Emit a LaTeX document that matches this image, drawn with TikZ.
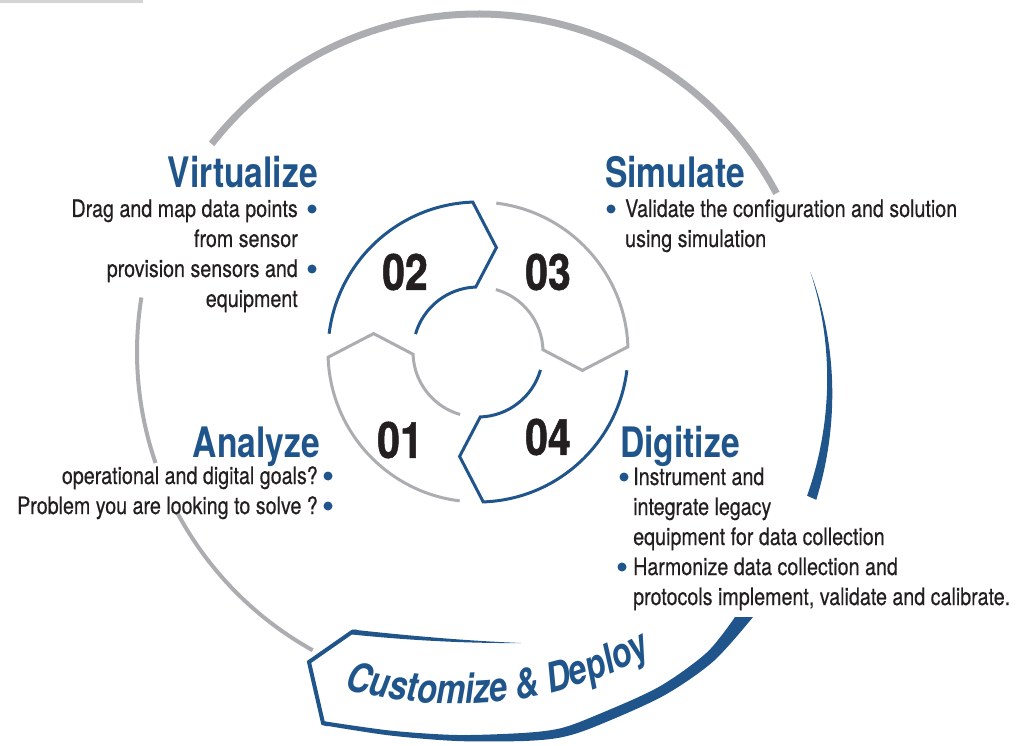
\documentclass[tikz,border=0pt]{standalone}
\usepackage{fontspec}
\setmainfont{TeX Gyre Heros}[FakeStretch=0.8]
\newfontfamily\bodyfont{TeX Gyre Heros}[FakeStretch=0.82, FakeBold=0.4]
\newfontfamily\numfont{TeX Gyre Heros}[FakeStretch=0.82, FakeBold=1]
\usetikzlibrary{calc,decorations.text}
\definecolor{cblue}{RGB}{31,85,139}
\definecolor{cgray}{RGB}{172,173,177}
\definecolor{ctext}{RGB}{35,31,32}
\tikzset{
  title/.style={font=\fontsize{42}{42}\selectfont\bfseries, text=cblue, inner sep=0pt},
  body/.style={font=\fontsize{24}{30}\bodyfont, text=ctext, inner sep=0pt},
  num/.style={font=\fontsize{50}{50}\numfont\bfseries, text=ctext},
  seg/.style={line width=3pt, line join=miter},
  bul/.style={fill=cblue}
}
\begin{document}
\begin{tikzpicture}[x=1pt,y=1pt]
  \useasboundingbox (0,0) rectangle (1016,745);
  \fill[black!17] (0,742) rectangle (143,745);
  \coordinate (C) at (478,393);
  % the four steps
  \foreach \h/\c/\n/\nx/\ny in {182/cgray/01/400/305, 92/cblue/02/405/473, 2/cgray/03/548/473, -88/cblue/04/548/308}{
    \draw[seg,\c] ($(C)+(\h+81:150)$) arc[start angle=\h+81, end angle=\h, radius=150pt]
      -- ($(C)+(\h-12:106)$) -- ($(C)+(\h:65)$) arc[start angle=\h, end angle=\h+72, radius=65pt];
    \node[num] (n\n) at (\nx,\ny) {\n};}
  % outer ring
  \draw[cgray, line width=7pt] ($(C)+(142:338)$) arc[start angle=142, end angle=28, radius=338pt];
  \draw[cgray, line width=4pt] ($(C)+(170.8:341)$) arc[start angle=170.8, end angle=199, radius=341pt];
  \draw[cgray, line width=4pt] ($(C)+(208.2:341)$) arc[start angle=208.2, end angle=241, radius=341pt];
  \fill[cblue] plot[domain=13.5:-23.6, samples=40] ({478+(350-0.6*\x+0.135*(13.5-\x))*cos(\x)}, {393+(350-0.6*\x+0.135*(13.5-\x))*sin(\x)})
    -- plot[domain=-23.6:13.5, samples=40] ({478+(350-0.6*\x-0.135*(13.5-\x))*cos(\x)}, {393+(350-0.6*\x-0.135*(13.5-\x))*sin(\x)}) -- cycle;
  % banner
  \coordinate (b1) at (352,113); \coordinate (b2) at (309,83); \coordinate (b3) at (323,22);
  \draw[cblue, line width=4pt, line join=miter] ($(b1)+(5,0.5)$) -- (b1) -- (b2) -- (b3) -- ($(b3)+(5,-1.5)$);
  \fill[cblue] (352,115.5) .. controls (410,109) and (470,104) .. (521,102) .. controls (470,101.5) and (410,104.5) .. (352,110.5) -- cycle;
  \fill[cblue] plot[smooth] coordinates {(322,20) (389.4,9.6) (456.8,4) (523.5,4) (560.9,7.6) (594.5,18.2) (662.4,48.6) (713.3,83.6) (753,128)}
    -- plot[smooth] coordinates {(735,128) (706.7,92.4) (657.6,57.4) (591.5,27.8) (559.1,16.4) (522.5,12) (457.2,10) (390.6,14.4) (323.8,23.8)} -- cycle;
  \path[decorate, decoration={text along path, text align=center,
      text={|\fontsize{41}{41}\selectfont\bfseries\itshape\color{cblue}|Customize {\&} Deploy}}]
    ($(455,452)+(250.5:411)$) arc[start angle=250.5, end angle=302.5, radius=411pt];
  % texts
  \node[title, anchor=base east] (virt) at (318,557) {Virtualize};
  \foreach \t [count=\i] in {Drag and map data points, from sensor, provision sensors and, equipment}
    \node[body, anchor=base east] (virt\i) at (298,558-30*\i) {\t};
  \fill[bul] ($(virt1.base east)+(14,8)$) circle (4.5pt);
  \fill[bul] ($(virt3.base east)+(14,8)$) circle (4.5pt);
  \node[title, anchor=base west] (simu) at (605,557) {Simulate};
  \foreach \t [count=\i] in {Validate the configuration and solution, using simulation}
    \node[body, anchor=base west] (simu\i) at (625,558-30*\i) {\t};
  \fill[bul] ($(simu1.base west)+(-14,8)$) circle (4.5pt);
  \node[title, anchor=base east] (anlz) at (320,288) {Analyze};
  \foreach \t [count=\i] in {operational and digital goals?, Problem you are looking to solve ?}
    \node[body, anchor=base east] (anlz\i) at (318,291-30*\i) {\t};
  \fill[bul] ($(anlz1.base east)+(10,8)$) circle (4.5pt);
  \fill[bul] ($(anlz2.base east)+(10,8)$) circle (4.5pt);
  \node[title, anchor=base west] (digi) at (620,288) {Digitize};
  \foreach \t [count=\i] in {Instrument and, integrate legacy, equipment for data collection, Harmonize data collection and, {protocols implement, validate and calibrate.}}
    \node[body, anchor=base west] (digi\i) at (633,290-30*\i) {\t};
  \fill[bul] ($(digi1.base west)+(-9,8)$) circle (4.5pt);
  \fill[bul] ($(digi4.base west)+(-11,8)$) circle (4.5pt);
\end{tikzpicture}
\end{document}
